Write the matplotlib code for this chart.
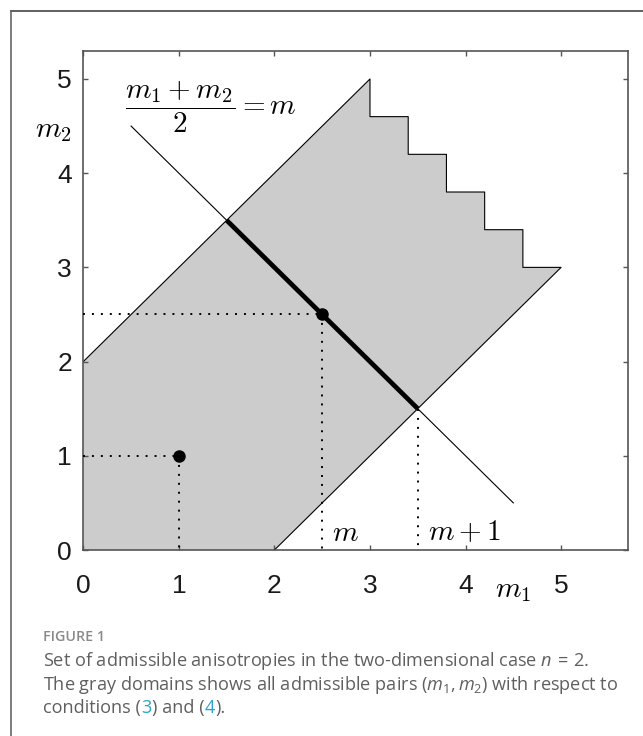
import matplotlib
matplotlib.use("Agg")
import matplotlib.pyplot as plt
from matplotlib.lines import Line2D

# ---------------- data ----------------
region_m1 = [0, 2, 5, 4.6, 4.6, 4.2, 4.2, 3.8, 3.8, 3.4, 3.4, 3, 3, 0]
region_m2 = [0, 0, 3, 3, 3.4, 3.4, 3.8, 3.8, 4.2, 4.2, 4.6, 4.6, 5, 2]
line_m1 = [0.5, 4.5]
line_m2 = [4.5, 0.5]
seg_m1 = [1.5, 3.5]
seg_m2 = [3.5, 1.5]
pts_m1 = [1, 2.5]
pts_m2 = [1, 2.5]
crossing_m1 = 3.5
crossing_m2 = 1.5
xticks = [0, 1, 2, 3, 4, 5]
yticks = [0, 1, 2, 3, 4, 5]

plt.rcParams['mathtext.fontset'] = 'custom'
plt.rcParams['mathtext.rm'] = 'Open Sans'
plt.rcParams['mathtext.it'] = 'Open Sans:italic'
plt.rcParams['mathtext.bf'] = 'Open Sans:bold'

W, H = 643, 736
fig = plt.figure(figsize=(W / 100, H / 100), dpi=100)
ax = fig.add_axes([83.3 / W, 1 - 550 / H, (628 - 83.3) / W, (550 - 50.7) / H])

ax.fill(region_m1, region_m2, color='#cccccc', lw=0, zorder=1)
ax.plot(region_m1[1:], region_m2[1:], color='black', lw=0.8, zorder=2)
ax.plot(line_m1, line_m2, color='black', lw=0.8, zorder=3)
ax.plot(seg_m1, seg_m2, color='black', lw=3.4, solid_capstyle='butt', zorder=4)

dot = dict(color='black', lw=1.4, dashes=(1, 3.6), dash_capstyle='butt', zorder=3)
for px, py in zip(pts_m1, pts_m2):
    ax.plot([0, px], [py, py], **dot)
    ax.plot([px, px], [py, 0], **dot)
ax.plot([crossing_m1, crossing_m1], [crossing_m2, 0], **dot)
ax.plot(pts_m1, pts_m2, 'o', color='black', ms=8, zorder=5)

ax.set_xlim(0, 5.7)
ax.set_ylim(0, 5.3)
ax.set_xticks(xticks)
ax.set_yticks(yticks)
ax.set_xticklabels([str(t) for t in xticks], fontfamily='Liberation Sans', fontsize=19, color='#1a1a1a')
ax.set_yticklabels([str(t) for t in yticks], fontfamily='Liberation Sans', fontsize=19, color='#1a1a1a')
ax.tick_params(direction='in', top=True, right=True, length=3.8, width=1.0, color='#555555')
ax.tick_params(axis='x', pad=17.5)
ax.tick_params(axis='y', pad=8.2)
for s in ax.spines.values():
    s.set_color('#555555')
    s.set_linewidth(1.2)

cm = dict(math_fontfamily='cm', color='black', fontsize=21, clip_on=False)
ax.text(0.44, 4.70, r'$\dfrac{m_1+m_2}{2}=m$', ha='left', va='center', **cm)
ax.text(-0.51, 4.38, r'$m_2$', ha='left', va='baseline', **cm)
ax.text(4.31, -0.50, r'$m_1$', ha='left', va='baseline', **cm)
ax.text(2.60, 0.10, r'$m$', ha='left', va='baseline', **cm)
ax.text(3.61, 0.10, r'$m+1$', ha='left', va='baseline', **cm)

# frame
fig.add_artist(Line2D([11 / W, 1], [1 - 11 / H, 1 - 11 / H], color='#444444', lw=1.2))
fig.add_artist(Line2D([11 / W, 11 / W], [1 - 11 / H, 0], color='#666666', lw=1.2))

# caption
gray = '#5f5f5f'
cap = dict(fontfamily='Open Sans', fontsize=13.1, color=gray, math_fontfamily='custom',
           ha='left', va='baseline')
fig.text(43 / W, 1 - 641 / H, 'FIGURE 1', fontfamily='Open Sans', fontsize=10.3,
         color='#8a8a8a', fontweight='semibold', ha='left', va='baseline')
fig.text(43 / W, 1 - 666 / H, r'Set of admissible anisotropies in the two-dimensional case $n\,=\,2$.', **cap)
fig.text(43 / W, 1 - 689.5 / H, r'The gray domains shows all admissible pairs $(m_1, m_2)$ with respect to', **cap)

fig.canvas.draw()
renderer = fig.canvas.get_renderer()
pieces = [('conditions (', gray), ('3', '#2aa4c4'), (') and (', gray), ('4', '#2aa4c4'), (').', gray)]
x = 43
for txt, col in pieces:
    kw = dict(cap)
    kw['color'] = col
    t = fig.text(x / W, 1 - 713 / H, txt, **kw)
    bb = t.get_window_extent(renderer)
    x = bb.x1 + 0.3

fig.savefig('out.png', dpi=100)
